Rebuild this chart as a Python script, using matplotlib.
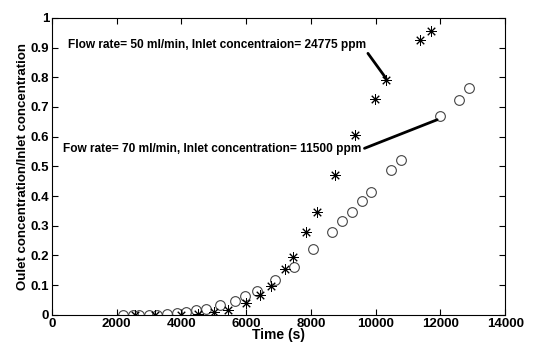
import numpy as np
import matplotlib.pyplot as plt
from matplotlib import font_manager

# pick the regular-width Liberation Sans Bold file (not the Narrow variant)
bold_file = None
for f in font_manager.findSystemFonts():
    if f.endswith('LiberationSans-Bold.ttf'):
        bold_file = f
font_manager.fontManager.addfont(bold_file)
fp = font_manager.FontProperties(fname=bold_file)

# flow rate 50 ml/min, inlet 24775 ppm (asterisks)
t_50 = [2560, 3200, 4000, 4520, 5000, 5430, 6000, 6420, 6760, 7190, 7440,
        7860, 8190, 8740, 9370, 9970, 10330, 11360, 11710]
c_50 = [0.0, 0.0, 0.0, 0.002, 0.009, 0.017, 0.039, 0.067, 0.098, 0.156, 0.196,
        0.278, 0.347, 0.471, 0.607, 0.728, 0.791, 0.927, 0.954]

# flow rate 70 ml/min, inlet 11500 ppm (circles)
t_70 = [2200, 2500, 2680, 2990, 3250, 3560, 3870, 4150, 4460, 4770, 5190,
        5670, 5980, 6340, 6880, 7470, 8060, 8660, 8960, 9270, 9570, 9870,
        10490, 10780, 11980, 12570, 12880]
c_70 = [0.0, 0.0, 0.0, 0.0, 0.0, 0.003, 0.006, 0.011, 0.017, 0.02, 0.034,
        0.047, 0.064, 0.082, 0.118, 0.161, 0.222, 0.279, 0.316, 0.346, 0.383,
        0.413, 0.487, 0.520, 0.671, 0.722, 0.764]

fig = plt.figure(figsize=(5.34, 3.43), dpi=100)
ax = fig.add_axes([0.097, 0.082, 0.849, 0.866])

ax.plot(t_70, c_70, linestyle='none', marker='o', markersize=7,
        markerfacecolor='none', markeredgecolor='#444444', markeredgewidth=0.8)
ax.plot(t_50, c_50, linestyle='none', marker=(8, 2, 0), markersize=7.5,
        color='black', markeredgewidth=0.7)

ax.annotate('Flow rate= 50 ml/min, Inlet concentraion= 24775 ppm',
            xy=(10330, 0.795), xytext=(9700, 0.91), fontproperties=fp,
            fontsize=8.6, ha='right', va='center',
            arrowprops=dict(arrowstyle='-', color='black', lw=2,
                            shrinkA=0, shrinkB=0, relpos=(1.0, 0.0)))
ax.annotate('Fow rate= 70 ml/min, Inlet concentration= 11500 ppm',
            xy=(11900, 0.657), xytext=(9570, 0.557), fontproperties=fp,
            fontsize=8.6, ha='right', va='center',
            arrowprops=dict(arrowstyle='-', color='black', lw=2,
                            shrinkA=0, shrinkB=0, relpos=(1.0, 0.5)))

ax.set_xlim(0, 14000)
ax.set_ylim(0, 1)
ax.set_xticks(np.arange(0, 14001, 2000))
ax.set_yticks(np.arange(0, 1.01, 0.1))
ax.set_xticklabels([str(v) for v in range(0, 14001, 2000)],
                   fontproperties=fp, fontsize=9.5)
ax.set_yticklabels(['0', '0.1', '0.2', '0.3', '0.4', '0.5', '0.6', '0.7',
                    '0.8', '0.9', '1'], fontproperties=fp, fontsize=9.5)
ax.tick_params(direction='in', top=True, right=True,
               length=4, width=0.8, pad=2)
for s in ax.spines.values():
    s.set_linewidth(0.8)

ax.set_xlabel('Time (s)', fontproperties=fp, fontsize=10, labelpad=-1)
ax.set_ylabel('Oulet concentration/Inlet concentration', fontproperties=fp,
              fontsize=9.5, labelpad=1)

fig.savefig('out.png', dpi=100)
